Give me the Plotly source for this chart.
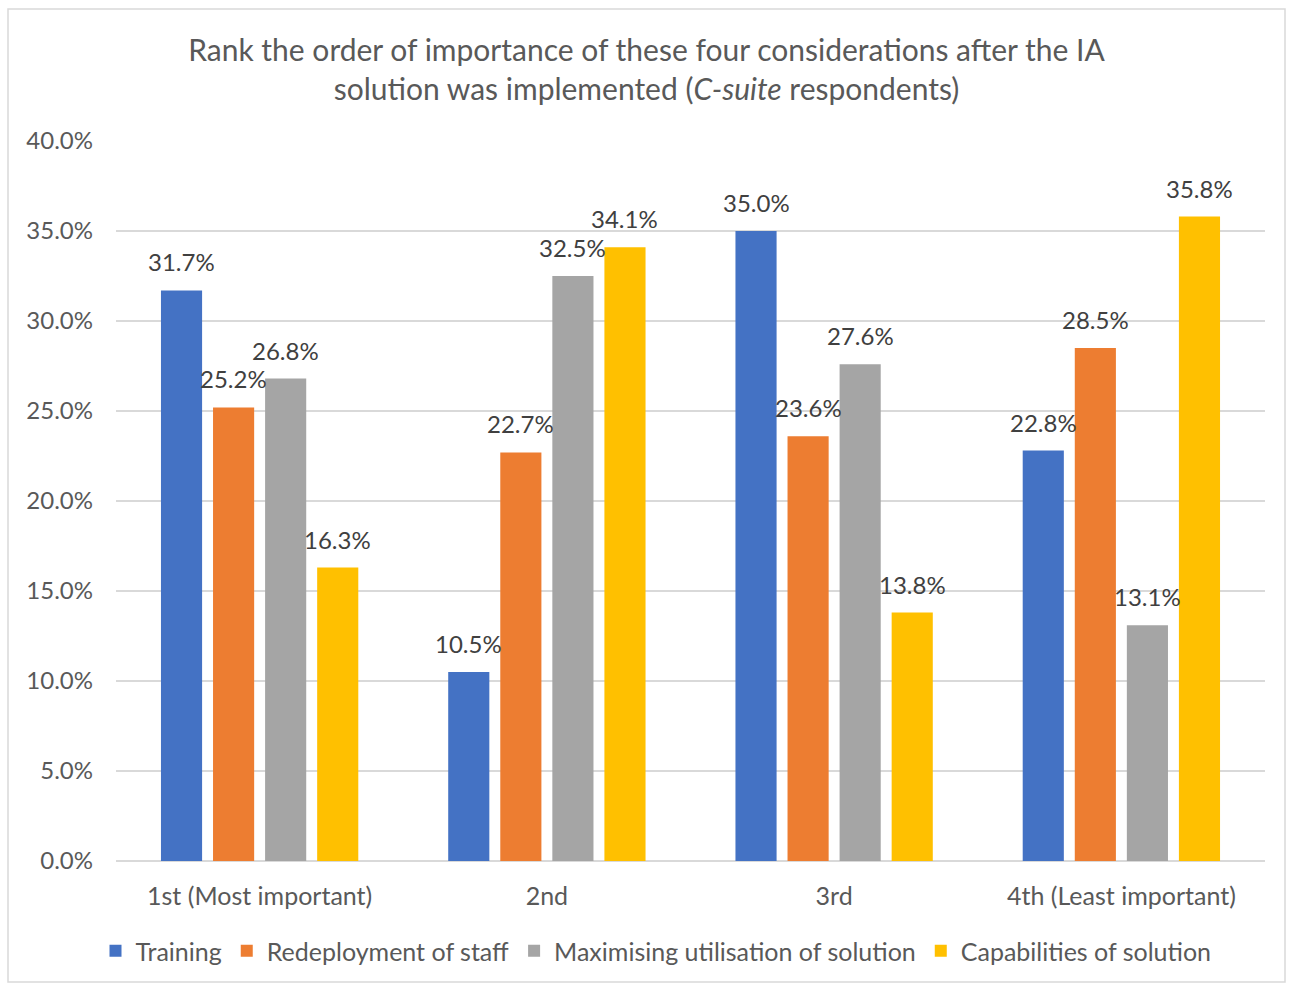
import plotly.graph_objects as go

categories = ["1st (Most important)", "2nd", "3rd", "4th (Least important)"]
series_names = ["Training", "Redeployment of staff",
                "Maximising utilisation of solution", "Capabilities of solution"]
training = [31.7, 10.5, 35.0, 22.8]
redeployment = [25.2, 22.7, 23.6, 28.5]
maximising = [26.8, 32.5, 27.6, 13.1]
capabilities = [16.3, 34.1, 13.8, 35.8]
y_ticks = [0, 5, 10, 15, 20, 25, 30, 35, 40]

series_values = [training, redeployment, maximising, capabilities]
colors = ["#4472C4", "#ED7D31", "#A5A5A5", "#FFC000"]

W, H = 1293, 985
ML, MR, MT, MB = 116, 28, 141, 124
plot_w = W - ML - MR
plot_h = H - MT - MB
BARGAP = 0.275
FONT = "Lato, Carlito, 'Open Sans', sans-serif"
TEXT = "#595959"

fig = go.Figure()
for name, vals, col in zip(series_names, series_values, colors):
    fig.add_trace(go.Bar(x=categories, y=vals, name=name,
                         marker=dict(color=col, line=dict(width=0))))

# value labels above each bar
cat_px = plot_w / len(categories)
slot_px = cat_px * (1 - BARGAP) / len(series_names)
annotations = []
for i, vals in enumerate(series_values):
    for cat, v in zip(categories, vals):
        annotations.append(dict(
            x=cat, y=v, xref="x", yref="y", text=f"{v:.1f}%",
            showarrow=False, yanchor="bottom", yshift=12,
            xshift=(i - 1.5) * slot_px,
            font=dict(family=FONT, size=24, color="#404040")))

# light frame around the whole chart
fig.add_shape(type="rect", xref="paper", yref="paper",
              x0=(8 - ML) / plot_w, x1=(1285 - ML) / plot_w,
              y0=(H - MB - 982) / plot_h, y1=(H - MB - 9) / plot_h,
              line=dict(color="#D9D9D9", width=1.5), fillcolor="rgba(0,0,0,0)")

fig.update_layout(
    width=W, height=H,
    margin=dict(l=ML, r=MR, t=MT, b=MB, autoexpand=False),
    paper_bgcolor="white", plot_bgcolor="white",
    barmode="group", bargap=BARGAP, bargroupgap=0.21,
    title=dict(text="Rank the order of importance of these four considerations after the IA<br>"
                    "solution was implemented (<i>C-suite</i> respondents)",
               x=0.5, xref="container", xanchor="center",
               y=1 - 61 / H, yanchor="middle",
               font=dict(family=FONT, size=30, color=TEXT)),
    font=dict(family=FONT, color=TEXT),
    xaxis=dict(showgrid=False, showline=False, ticks="", tickfont=dict(size=25, color=TEXT),
               ticklabelstandoff=18, automargin=False),
    yaxis=dict(range=[0, 40], tickvals=y_ticks,
               ticktext=[f"{t:.1f}%" for t in y_ticks],
               showgrid=True, gridcolor="#D9D9D9", gridwidth=1.5,
               zeroline=True, zerolinecolor="#D9D9D9", zerolinewidth=1.5,
               showline=False, ticks="", tickfont=dict(size=24, color=TEXT),
               ticklabelstandoff=22, automargin=False),
    legend=dict(orientation="h", x=(656 - ML) / plot_w, xanchor="center",
                y=-(951 - (H - MB)) / plot_h, yanchor="middle",
                font=dict(size=25, color=TEXT), traceorder="normal",
                itemwidth=30),
    showlegend=True,
    annotations=annotations,
)

fig.write_html("out.html")
